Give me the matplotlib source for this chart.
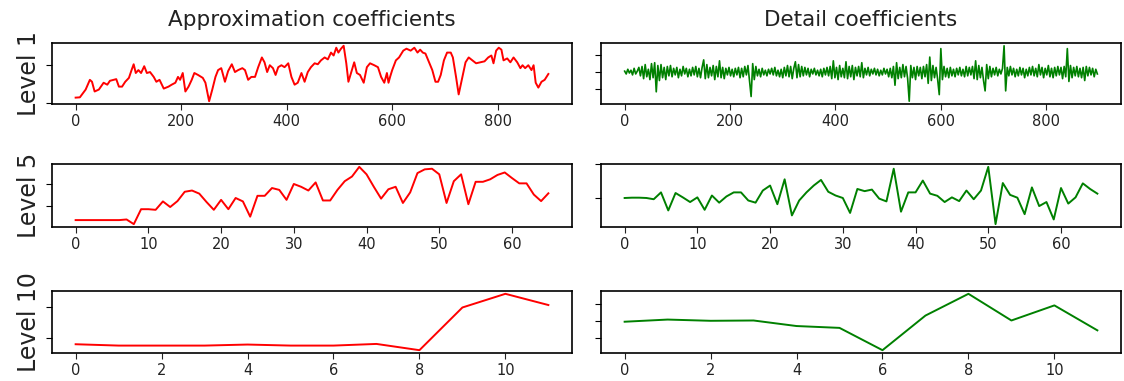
import matplotlib
matplotlib.use("Agg")
import matplotlib.pyplot as plt
import numpy as np

# ---------------- data (arbitrary units) ----------------
titles = ["Approximation coefficients", "Detail coefficients"]
row_labels = ["Level 1", "Level 5", "Level 10"]

# Level 1 approximation: sample index / value
l1_approx_idx = [0, 8, 19, 27, 31, 36, 44, 53, 60, 65, 72, 77, 82, 88, 94, 101, 106, 110, 114, 119,
                 124, 130, 135, 141, 148, 153, 159, 167, 176, 182, 189, 194, 198, 203, 208, 214, 220,
                 225, 232, 241, 246, 253, 259, 265, 270, 276, 283, 289, 296, 302, 308, 316, 321, 327,
                 333, 340, 346, 353, 358, 363, 368, 374, 379, 384, 390, 396, 403, 409, 415, 421, 428,
                 434, 440, 446, 453, 459, 465, 472, 478, 484, 489, 494, 498, 503, 508, 513, 517, 522,
                 528, 533, 539, 546, 552, 558, 566, 573, 579, 585, 590, 593, 596, 600, 607, 613, 621,
                 627, 635, 642, 648, 653, 658, 663, 670, 676, 682, 687, 692, 698, 704, 711, 715, 721,
                 726, 733, 739, 745, 752, 759, 767, 775, 782, 788, 792, 797, 802, 807, 811, 818, 824,
                 830, 837, 843, 847, 852, 858, 864, 868, 872, 877, 883, 889, 896]
l1_approx_val = [5.7, 6, 14, 24, 22, 12, 14, 21, 19, 23, 24, 24.7, 17, 17, 22, 26, 34, 40, 31, 34,
                 31, 38, 31, 32, 27, 22, 24, 15, 17, 19, 21, 27, 24, 31, 12, 17, 24,
                 31, 29, 26, 21, 2, 14, 27, 34, 36, 22, 33, 40, 32, 34, 36, 34, 24,
                 27, 27, 37, 47, 42, 32, 39, 36, 29, 37, 39, 37, 41, 27, 19, 21, 31,
                 22, 32, 37, 41, 40, 44, 47, 45, 52, 49, 57, 52, 56, 59, 41, 22, 31,
                 42, 31, 29, 21, 37, 41, 39, 37, 27, 21, 31, 21, 27, 34, 44, 47, 54,
                 56, 54, 57, 52, 55, 52, 51, 42, 34, 22, 22, 29, 44, 52, 52, 47, 27,
                 9, 27, 42, 47, 44, 41, 42, 43, 47, 49, 41, 54, 57, 55, 44, 46, 42,
                 47, 42, 36, 39, 36, 39, 34, 39, 21, 16, 22, 24, 30]

# Level 1 detail: every third sample (index 0, 3, ..., 897)
l1_detail_step = 3
l1_detail_val = [
    1, -2, 3, -1, 2, -3, 4, -2, 1, 5,
    -4, 6, -7, 8, -5, 3, -8, 9, -6, 10,
    -21, 7, -9, 8, -6, 5, -8, 6, -4, 7,
    -5, 4, -3, 5, -6, 3, -4, 6, -2, 4,
    -5, 3, -4, 5, -3, 6, -5, 4, -6, 5,
    13, -7, 8, -6, 5, -4, 7, -8, 6, -5,
    12, -6, 5, -7, 4, -3, 5, -4, 3, -5,
    4, -3, 5, -6, 4, -5, 6, -3, 7, -9,
    -26, 9, -8, 6, -4, 3, -5, 4, -3, 2,
    -4, 3, -2, 4, -3, 5, -4, 2, -5, 3,
    -6, 5, -4, 7, -5, 6, -7, 4, 11, -6,
    8, -5, 6, -4, 5, -3, 4, -5, 3, -2,
    4, -3, 2, -4, 3, -5, 4, -3, 5, -4,
    6, -7, 12, -6, 5, -8, 7, -5, 4, -6,
    11, -7, 6, -5, 7, -8, 5, -4, 6, -5,
    10, -6, 4, -3, 5, -4, 3, -2, 4, -3,
    3, -4, 2, -3, 4, -2, 3, -5, 4, -6,
    6, -14, 10, -7, 5, -6, 8, -5, 6, -7,
    -31, 7, -6, 5, -8, 6, -4, 5, -7, 6,
    -5, 8, -12, 16, -9, 7, -6, 5, -8, -24,
    25, -8, 6, -5, 4, -6, 5, -4, 3, -5,
    4, -3, 5, -4, 3, -5, 6, -4, 5, -3,
    6, -7, 12, -8, 7, -6, 5, -9, -20, 8,
    -7, 6, -5, 4, -3, 5, -4, 3, -2, 4,
    28, -20, 5, -4, 6, -3, 4, -5, 3, -4,
    5, -3, 4, -6, 3, -4, 5, -3, 6, -4,
    4, -5, 8, -3, 5, -6, 4, -3, 7, -5,
    4, -6, 5, -4, 6, -3, 5, -7, 6, -5,
    25, -10, 7, -6, 5, -4, 6, -5, 4, -6,
    5, -9, 6, -4, 5, -3, 4, -5, 3, -2,
]

l5_approx = [0.105, 0.105, 0.105, 0.105, 0.105, 0.105, 0.105, 0.115, 0.04, 0.28,
             0.28, 0.27, 0.405, 0.315, 0.41, 0.56, 0.58, 0.53, 0.395, 0.27,
             0.43, 0.28, 0.46, 0.405, 0.16, 0.495, 0.495, 0.62, 0.59, 0.43,
             0.685, 0.64, 0.58, 0.71, 0.42, 0.42, 0.59, 0.73, 0.805, 0.96,
             0.84, 0.64, 0.45, 0.60, 0.64, 0.38, 0.55, 0.86, 0.92, 0.93,
             0.84, 0.38, 0.73, 0.84, 0.36, 0.72, 0.72, 0.76, 0.83, 0.87,
             0.78, 0.695, 0.695, 0.515, 0.41, 0.535]
l5_detail = [0.46, 0.465, 0.465, 0.46, 0.44, 0.55, 0.26, 0.54, 0.47, 0.395,
             0.47, 0.27, 0.50, 0.385, 0.485, 0.55, 0.55, 0.42, 0.385, 0.58,
             0.66, 0.36, 0.76, 0.18, 0.42, 0.55, 0.66, 0.75, 0.56, 0.50,
             0.46, 0.22, 0.605, 0.57, 0.595, 0.45, 0.405, 0.93, 0.24, 0.55,
             0.55, 0.74, 0.53, 0.495, 0.395, 0.47, 0.41, 0.58, 0.44, 0.58,
             0.96, 0.04, 0.70, 0.51, 0.465, 0.20, 0.63, 0.33, 0.395, 0.115,
             0.62, 0.37, 0.47, 0.695, 0.605, 0.53]
l10_approx = [0.15, 0.128, 0.128, 0.128, 0.145, 0.128, 0.128, 0.155, 0.053, 0.75, 0.973, 0.79]
l10_detail = [0.51, 0.545, 0.525, 0.53, 0.44, 0.41, 0.048, 0.61, 0.963, 0.53, 0.775, 0.37]

# y tick positions (labels hidden in the original)
yticks = {
    (0, 0): [0, 39], (0, 1): [-18, 0, 18],
    (1, 0): [0.33, 0.685], (1, 1): [0.46, 1.0],
    (2, 0): [0.25, 0.75], (2, 1): [0.25, 0.524, 0.80],
}

# ---------------- figure ----------------
fig = plt.figure(figsize=(11.24, 3.81), dpi=100)
lefts = [52 / 1124, 601 / 1124]
width = 520 / 1124
rows_px = [(43, 104), (164, 227), (291, 353)]
H = 381.0

series = {
    (0, 0): (np.array(l1_approx_idx), np.array(l1_approx_val)),
    (0, 1): (np.arange(len(l1_detail_val)) * l1_detail_step, np.array(l1_detail_val)),
    (1, 0): (np.arange(len(l5_approx)), np.array(l5_approx)),
    (1, 1): (np.arange(len(l5_detail)), np.array(l5_detail)),
    (2, 0): (np.arange(len(l10_approx)), np.array(l10_approx)),
    (2, 1): (np.arange(len(l10_detail)), np.array(l10_detail)),
}
colors = ["red", "green"]

for r, (top, bot) in enumerate(rows_px):
    for c in range(2):
        ax = fig.add_axes([lefts[c], 1 - bot / H, width, (bot - top) / H])
        x, y = series[(r, c)]
        lw = 1.2 if (r, c) == (0, 1) else 1.4
        ax.plot(x, y, color=colors[c], lw=lw)
        ax.set_yticks(yticks[(r, c)])
        ax.tick_params(axis="y", labelleft=False, length=4)
        ax.tick_params(axis="x", labelsize=10.5, length=4, colors="#222222")
        for s in ax.spines.values():
            s.set_linewidth(1.2)
        if r == 0:
            ax.set_title(titles[c], fontsize=15.5, color="#222222", pad=12)
        if c == 0:
            ax.set_ylabel(row_labels[r], fontsize=17, color="#222222", labelpad=4)

fig.savefig("out.png", dpi=100)
